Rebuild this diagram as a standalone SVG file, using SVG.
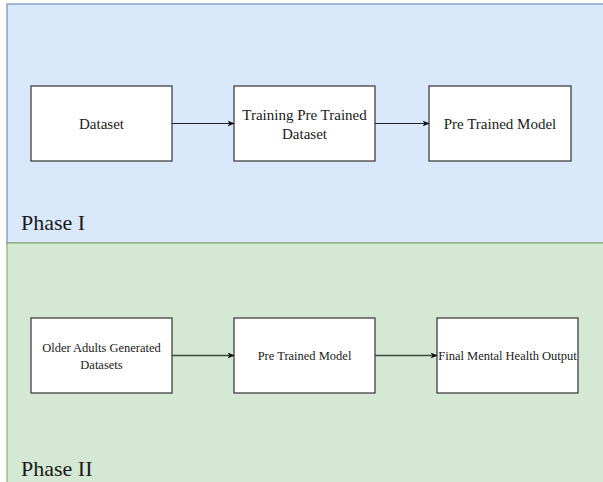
<svg xmlns="http://www.w3.org/2000/svg" width="603" height="482" viewBox="0 0 603 482">
<style>
.box{fill:#ffffff;stroke:#333333;stroke-width:1.2}
.lbl{font-family:"Liberation Serif","Times New Roman",serif;fill:#1a1a1a;text-anchor:middle}
.l1{font-size:15px}
.l2{font-size:12.5px}
.phase{font-family:"Liberation Serif","Times New Roman",serif;font-size:22px;fill:#1a1a1a}
.edge{fill:none;stroke:#222222;stroke-width:1.2}
.edge2{fill:none;stroke:#3a4a3a;stroke-width:1.6}
</style>
<defs>
<marker id="arr" viewBox="0 0 10 10" refX="9" refY="5" markerWidth="7" markerHeight="7" markerUnits="userSpaceOnUse" orient="auto">
<path d="M0,1 L10,5 L0,9 L2.5,5 Z" fill="#111111"/>
</marker>
</defs>
<g id="phase1">
<rect x="7" y="4" width="620" height="239" fill="#dae8fc" stroke="#6c8ebf" stroke-width="1.2"/>
<text class="phase" x="21" y="230" font-family="Liberation Serif, serif">Phase I</text>
</g>
<g id="phase2">
<rect x="7" y="243" width="620" height="260" fill="#d5e8d4" stroke="#82b366" stroke-width="1.2"/>
<text class="phase" x="21" y="476" font-family="Liberation Serif, serif">Phase II</text>
</g>
<g id="n-dataset" font-family="Liberation Serif, serif">
<rect class="box" x="31" y="86" width="141" height="75"/>
<text class="lbl l1" x="101.5" y="129">Dataset</text>
</g>
<g id="n-training" font-family="Liberation Serif, serif">
<rect class="box" x="234" y="86" width="141" height="75"/>
<text class="lbl l1" x="304.5" y="120">Training Pre Trained</text>
<text class="lbl l1" x="304.5" y="139">Dataset</text>
</g>
<g id="n-pretrained1" font-family="Liberation Serif, serif">
<rect class="box" x="429" y="86" width="142" height="75"/>
<text class="lbl l1" x="500" y="129">Pre Trained Model</text>
</g>
<g id="n-older" font-family="Liberation Serif, serif">
<rect class="box" x="31" y="318" width="141" height="75"/>
<text class="lbl l2" x="101.5" y="352">Older Adults Generated</text>
<text class="lbl l2" x="101.5" y="369">Datasets</text>
</g>
<g id="n-pretrained2" font-family="Liberation Serif, serif">
<rect class="box" x="234" y="318" width="141" height="75"/>
<text class="lbl l2" x="304.5" y="360">Pre Trained Model</text>
</g>
<g id="n-final" font-family="Liberation Serif, serif">
<rect class="box" x="437" y="318" width="141" height="75"/>
<text class="lbl l2" x="507.5" y="360">Final Mental Health Output</text>
</g>
<g id="connectors">
<line class="edge" x1="172" y1="123.5" x2="234" y2="123.5" marker-end="url(#arr)"/>
<line class="edge" x1="375" y1="123.5" x2="429" y2="123.5" marker-end="url(#arr)"/>
<line class="edge2" x1="172" y1="355.5" x2="234" y2="355.5" marker-end="url(#arr)"/>
<line class="edge2" x1="375" y1="355.5" x2="437" y2="355.5" marker-end="url(#arr)"/>
</g>
</svg>
